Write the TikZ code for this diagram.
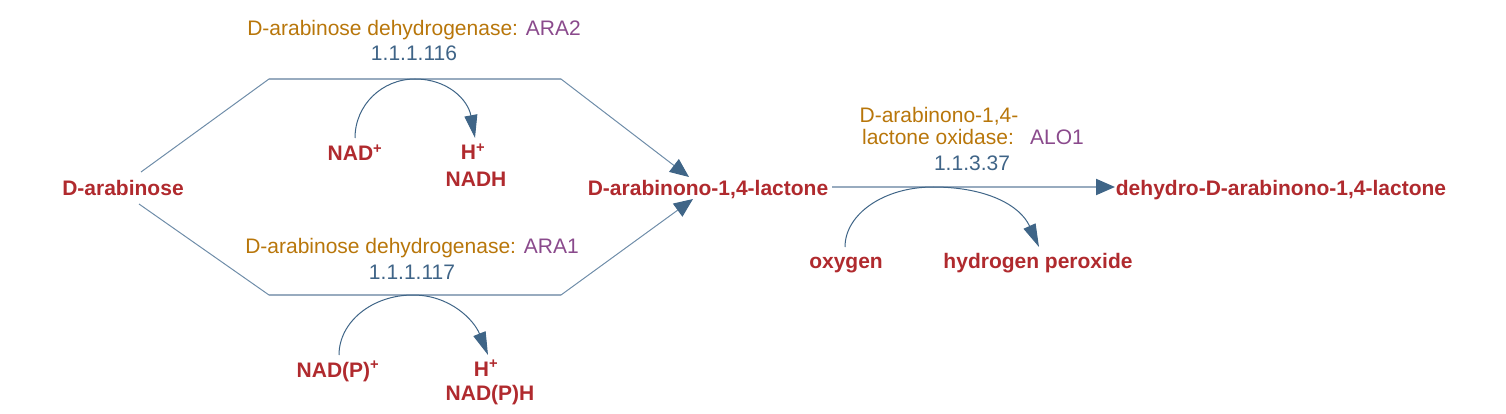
\documentclass[tikz,border=0pt]{standalone}
\usepackage{fontspec}
\setmainfont{Liberation Sans}
\usetikzlibrary{arrows.meta}
\definecolor{cpd}{HTML}{B02A2E}
\definecolor{enz}{HTML}{B8760A}
\definecolor{gene}{HTML}{8A4A8C}
\definecolor{ec}{HTML}{3F6487}
\definecolor{hl}{HTML}{98ABBF}
\definecolor{dg}{HTML}{6F8DA9}
\definecolor{arw}{HTML}{3F6587}
\tikzset{
  cpd/.style={font=\fontsize{21}{25}\selectfont\bfseries, text=cpd, inner sep=0pt, anchor=base},
  lab/.style={font=\fontsize{21}{25}\selectfont, inner sep=0pt, anchor=base},
  hseg/.style={draw=hl, line width=2pt},
  dseg/.style={draw=dg, line width=1pt},
  bigtip/.style={-{Triangle[length=19pt,width=16pt,color=arw]}},
  cof/.style={draw=arw, line width=1pt, -{Triangle[length=23pt,width=13pt]}},
}
\begin{document}
\begin{tikzpicture}[x=1pt,y=-1pt]
\useasboundingbox (0,0) rectangle (1506,414);
% compounds
\node[cpd] (arab) at (123,196) {D-arabinose};
\node[cpd] (lact) at (708,196) {D-arabinono-1,4-lactone};
\node[cpd] (dehy) at (1281,196) {dehydro-D-arabinono-1,4-lactone};
\node[cpd] (nad) at (355,161) {NAD\textsuperscript{+}};
\node[cpd] (h1) at (473,160) {H\textsuperscript{+}};
\node[cpd] (nadh) at (476,186) {NADH};
\node[cpd] (nadp) at (338,377) {NAD(P)\textsuperscript{+}};
\node[cpd] (h2) at (486,376) {H\textsuperscript{+}};
\node[cpd] (nadph) at (490,400) {NAD(P)H};
\node[cpd] (oxy) at (846,268) {oxygen};
\node[cpd] (hp) at (1038,268) {hydrogen peroxide};
% enzyme labels
\node[lab] (e1) at (414,36) {\textcolor{enz}{D-arabinose dehydrogenase:} \textcolor{gene}{ARA2}};
\node[lab, text=ec] (ec1) at (414,61) {1.1.1.116};
\node[lab] (e2) at (412,253) {\textcolor{enz}{D-arabinose dehydrogenase:} \textcolor{gene}{ARA1}};
\node[lab, text=ec] (ec2) at (412,279) {1.1.1.117};
\node[lab, text=enz] (e3a) at (939,123) {D-arabinono-1,4-};
\node[lab, text=enz] (e3b) at (938,145) {lactone oxidase:};
\node[lab, text=gene] (g3) at (1057,145) {ALO1};
\node[lab, text=ec] (ec3) at (972,171) {1.1.3.37};
% route coordinates
\coordinate (s1) at (141,172);
\coordinate (p1) at (269,79);
\coordinate (q1) at (561,79);
\coordinate (t1) at (689,177);
\coordinate (s2) at (139,204);
\coordinate (p2) at (269,295);
\coordinate (q2) at (561,295);
\coordinate (t2) at (693,199);
\coordinate (s3) at (832,187);
\coordinate (t3) at (1115,187);
% main reaction arrows
\draw[dseg] (s1) -- (p1);
\draw[hseg] (p1) -- (q1);
\draw[dseg, bigtip] (q1) -- (t1);
\draw[dseg] (s2) -- (p2);
\draw[hseg] (p2) -- (q2);
\draw[dseg, bigtip] (q2) -- (t2);
\draw[hseg, bigtip] (s3) -- (t3);
% cofactor arcs
\coordinate (c1s) at (355,138);
\coordinate (c1e) at (475,138);
\coordinate (c2s) at (339,355);
\coordinate (c2e) at (488,355);
\coordinate (c3s) at (845,247);
\coordinate (c3e) at (1039,247);
\draw[cof] (c1s) .. controls (355,105) and (382,79) .. (415,79) .. controls (448,79) and (468,100) .. (c1e);
\draw[cof] (c2s) .. controls (339,322) and (372,295) .. (413,295) .. controls (450,295) and (474,320) .. (c2e);
\draw[cof] (c3s) .. controls (845,214) and (884,187) .. (933,187) .. controls (986,187) and (1020,205) .. (c3e);
\end{tikzpicture}
\end{document}
